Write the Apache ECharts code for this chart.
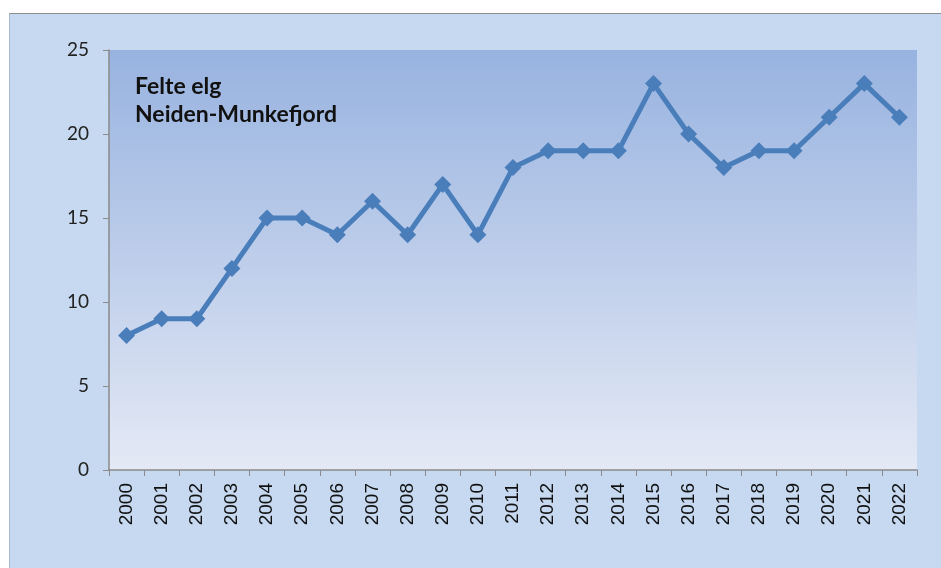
<!DOCTYPE html>
<html>
<head>
<meta charset="utf-8">
<script src="https://cdn.jsdelivr.net/npm/echarts@6/dist/echarts.min.js"></script>
<style>
  html, body { margin: 0; padding: 0; background: #fff; }
  #panel { position: absolute; left: 9px; top: 13px; width: 940px; height: 560px;
           background: #c6d9f0; border-top: 1px solid #8c8c8c; border-left: 1px solid #a8b8cc; }
  #main { position: absolute; left: 0; top: 0; width: 941px; height: 568px; }
</style>
</head>
<body>
<div id="panel"></div>
<div id="main"></div>
<script>
// felte elg per år
const years = ['2000', '2001', '2002', '2003', '2004', '2005', '2006', '2007', '2008', '2009', '2010',
  '2011', '2012', '2013', '2014', '2015', '2016', '2017', '2018', '2019', '2020', '2021', '2022'];
const felte = [8, 9, 9, 12, 15, 15, 14, 16, 14, 17, 14, 18, 19, 19, 19, 23, 20, 18, 19, 19, 21, 23, 21];
const yTicks = [0, 5, 10, 15, 20, 25];

const chart = echarts.init(document.getElementById('main'), null, { renderer: 'canvas' });

const option = {
  backgroundColor: 'transparent',
  animation: false,
  title: {
    text: 'Felte elg\nNeiden-Munkefjord',
    left: 130,
    top: 68,
    textStyle: {
      fontFamily: 'Lato',
      fontWeight: 'bold',
      fontSize: 23,
      lineHeight: 28,
      color: '#111'
    }
  },
  grid: {
    left: 109,
    right: 24,
    top: 50,
    bottom: 98,
    show: true,
    borderWidth: 0,
    backgroundColor: new echarts.graphic.LinearGradient(0, 0, 0, 1, [
      { offset: 0, color: '#98b3e0' },
      { offset: 1, color: '#e4e9f5' }
    ])
  },
  xAxis: {
    type: 'category',
    data: years,
    boundaryGap: true,
    axisLine: { lineStyle: { color: '#8a8a8a', width: 1.5 } },
    axisTick: { show: true, length: 6, interval: 0, lineStyle: { color: '#8a8a8a' } },
    axisLabel: {
      rotate: 90,
      interval: 0,
      margin: 13,
      fontFamily: 'Liberation Sans',
      fontSize: 19,
      color: '#111'
    },
    splitLine: { show: false }
  },
  yAxis: {
    type: 'value',
    min: yTicks[0],
    max: yTicks[yTicks.length - 1],
    interval: 5,
    axisLine: { show: true, lineStyle: { color: '#8a8a8a', width: 1.5 } },
    axisTick: { show: true, length: 6, lineStyle: { color: '#8a8a8a' } },
    axisLabel: {
      margin: 20,
      fontFamily: 'Lato',
      fontSize: 19,
      color: '#222'
    },
    splitLine: { show: false }
  },
  series: [{
    type: 'line',
    data: felte,
    symbol: 'diamond',
    symbolSize: 17,
    lineStyle: { color: '#4a7ebb', width: 5 },
    itemStyle: { color: '#4a7ebb' }
  }]
};

chart.setOption(option);
</script>
</body>
</html>
